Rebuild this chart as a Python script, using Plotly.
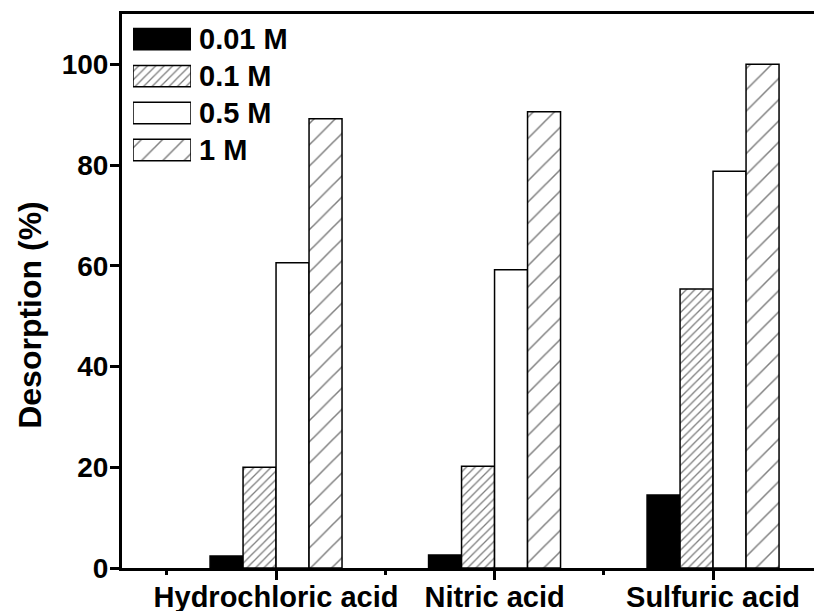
import plotly.graph_objects as go

# Desorption efficiency of three acids at four concentrations
acids = ["Hydrochloric acid", "Nitric acid", "Sulfuric acid"]
concentrations = ["0.01 M", "0.1 M", "0.5 M", "1 M"]
desorption_001M = [2.4, 2.6, 14.5]
desorption_01M = [20.0, 20.2, 55.4]
desorption_05M = [60.6, 59.2, 78.8]
desorption_1M = [89.2, 90.6, 100.0]
y_ticks = [0, 20, 40, 60, 80, 100]

series = [desorption_001M, desorption_01M, desorption_05M, desorption_1M]

FONT = "Liberation Sans, Arial, sans-serif"

# fill style for each concentration: (fill colour, hatch shape, hatch size, solidity)
styles = [
    dict(bgcolor="black", shape="", size=8, solidity=0.2),
    dict(bgcolor="white", shape="/", size=6, solidity=0.22),
    dict(bgcolor="white", shape="", size=8, solidity=0.2),
    dict(bgcolor="white", shape="/", size=15, solidity=0.1),
]

def marker_for(st):
    return dict(
        color=st["bgcolor"],
        line=dict(color="black", width=1.5),
        pattern=dict(shape=st["shape"], size=st["size"], solidity=st["solidity"],
                     fgcolor="black", bgcolor=st["bgcolor"], fillmode="overlay"),
    )

fig = go.Figure()
xpos = list(range(len(acids)))
for name, vals, st in zip(concentrations, series, styles):
    fig.add_trace(go.Bar(x=xpos, y=vals, name=name, marker=marker_for(st),
                         showlegend=False))

# key: one swatch per concentration drawn on a small overlay axis pair
for i, (name, st) in enumerate(zip(concentrations, styles)):
    fig.add_trace(go.Bar(x=[1], y=[i], base=0, orientation="h", width=0.58,
                         marker=marker_for(st), xaxis="x2", yaxis="y2",
                         showlegend=False, hoverinfo="skip"))
    fig.add_annotation(x=0.109, y=i, xref="paper", yref="y2", text=name,
                       showarrow=False, xanchor="left", yanchor="middle",
                       font=dict(family=FONT, size=29, color="black", weight="bold"))

# vertical axis title
fig.add_annotation(x=-0.133, y=0.457, xref="paper", yref="paper",
                   text="Desorption (%)", textangle=-90, showarrow=False,
                   xanchor="center", yanchor="middle",
                   font=dict(family=FONT, size=32, color="black", weight="bold"))

fig.update_layout(
    width=814, height=611,
    margin=dict(l=122, r=0, t=14, b=43),
    paper_bgcolor="white", plot_bgcolor="white",
    barmode="group", bargap=0.396, bargroupgap=0,
    font=dict(family=FONT, color="black"),
    xaxis=dict(
        range=[-0.705, 2.462], tickmode="array", tickvals=xpos, ticktext=acids,
        tickfont=dict(family=FONT, size=29, weight="bold"), ticklabelstandoff=-8,
        ticks="outside", ticklen=9, tickwidth=3, tickcolor="black",
        minor=dict(tickmode="array", tickvals=[-0.5, 0.5, 1.5, 2.5],
                   ticks="outside", ticklen=4, tickwidth=2.5, tickcolor="black"),
        showline=True, linewidth=3, linecolor="black", mirror=True,
        showgrid=False, zeroline=False, automargin=False,
    ),
    yaxis=dict(
        range=[0, 110], tickmode="array", tickvals=y_ticks,
        tickfont=dict(family=FONT, size=28, weight="bold"), ticklabelstandoff=-4,
        ticks="outside", ticklen=9, tickwidth=2.5, tickcolor="black",
        showline=True, linewidth=3, linecolor="black",
        showgrid=False, zeroline=False, automargin=False,
    ),
    xaxis2=dict(domain=[0.0159, 0.0997], range=[0, 1], anchor="y2",
                visible=False, fixedrange=True),
    yaxis2=dict(domain=[0.721, 0.988], range=[3.5, -0.5], anchor="x2",
                visible=False, fixedrange=True),
)

fig.write_html("out.html")
